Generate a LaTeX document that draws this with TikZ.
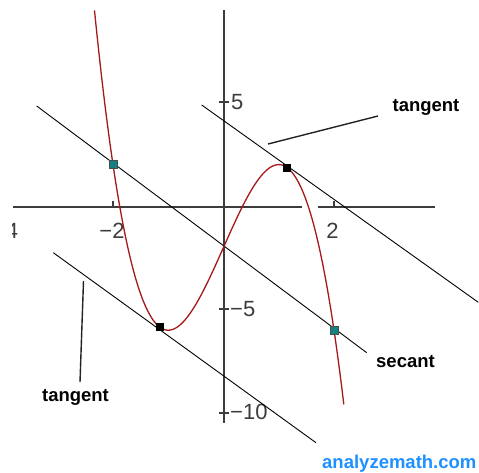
\documentclass[tikz,border=0pt]{standalone}
\usepackage{fontspec}
\setmainfont{Liberation Sans}
\definecolor{axisgray}{RGB}{60,60,60}
\definecolor{curvered}{RGB}{165,25,25}
\definecolor{ptteal}{RGB}{20,130,130}
\definecolor{siteblue}{RGB}{30,144,255}
\begin{document}
\begin{tikzpicture}[x=1pt,y=-1pt,
  axisline/.style={draw=axisgray, line width=1.8pt},
  tickmark/.style={draw=axisgray, line width=1.2pt},
  curveline/.style={draw=curvered, line width=1.3pt},
  fline/.style={draw=black, line width=0.9pt},
  pointer/.style={draw={rgb,255:red,35;green,35;blue,35}, line width=1.4pt},
  ticklabel/.style={font=\fontsize{22}{22}\selectfont, text=axisgray, inner sep=0pt},
  lbl/.style={font=\fontsize{18.5}{18.5}\selectfont\bfseries, inner sep=0pt},
  tealpt/.style={rectangle, minimum size=8pt, inner sep=0pt, fill=ptteal, draw=black!70, line width=0.4pt},
  blackpt/.style={rectangle, minimum size=8pt, inner sep=0pt, fill=black}]
\useasboundingbox (0,0) rectangle (479,472);
% axes
\coordinate (yTop) at (224,10); \coordinate (yBot) at (224,423);
\coordinate (xL) at (13,207); \coordinate (xG1) at (302,207);
\coordinate (xG2) at (318,207); \coordinate (xR) at (435,207);
\draw[axisline] (yTop) -- (yBot);
\draw[axisline] (xL) -- (xG1);
\draw[axisline] (xG2) -- (xR);
% ticks
\foreach \yy/\nm in {102/a,309/b,413/c}{
  \coordinate (ty1\nm) at (219,\yy); \coordinate (ty2\nm) at (229,\yy);
  \draw[tickmark] (ty1\nm) -- (ty2\nm);}
\foreach \xx/\nm in {113/a,334/b}{
  \coordinate (tx1\nm) at (\xx,201); \coordinate (tx2\nm) at (\xx,208);
  \draw[tickmark] (tx1\nm) -- (tx2\nm);}
% tick labels
\node[ticklabel, anchor=west] (l5) at (231,102) {5};
\node[ticklabel, anchor=west] (lm5) at (230,309.5) {−5};
\node[ticklabel, anchor=west] (lm10) at (230,411.5) {−10};
\node[ticklabel] (l2) at (332.5,231) {2};
\node[ticklabel] (lm2) at (112,231) {−2};
\begin{scope}
  \clip (12.5,190) rectangle (40,250);
  \node[ticklabel] (lm4) at (5.5,231) {−4};
\end{scope}
% straight lines
\coordinate (s1) at (36.7,106); \coordinate (s2) at (366.7,352.7);
\coordinate (u1) at (201.7,105); \coordinate (u2) at (478.3,302.3);
\coordinate (d1) at (53.3,252.7); \coordinate (d2) at (316,442.7);
\draw[fline] (s1) -- (s2);
\draw[fline] (u1) -- (u2);
\draw[fline] (d1) -- (d2);
% curve and points
\begin{scope}[shift={(223.5,206)}, x=55.25pt, y=20.7pt]
  \draw[curveline] plot[domain=-2.335:2.18, samples=160, smooth] (\x, {-2*\x*\x*\x+6*\x-2});
  \node[tealpt] (pA) at (-2,2) {};
  \node[tealpt] (pB) at (2,-6) {};
  \node[blackpt] (pT1) at (1.1547,1.849) {};
  \node[blackpt] (pT2) at (-1.1547,-5.849) {};
\end{scope}
% pointers and labels
\coordinate (p1a) at (268,144); \coordinate (p1b) at (378,116);
\coordinate (p2a) at (83.5,281); \coordinate (p2b) at (80,382);
\draw[pointer] (p1a) -- (p1b);
\draw[pointer] (p2a) -- (p2b);
\node[lbl, anchor=base] (tg1) at (426,111.5) {tangent};
\node[lbl, anchor=base] (sec) at (405.5,367) {secant};
\node[lbl, anchor=base] (tg2) at (75.5,401) {tangent};
\node[lbl, anchor=base west, text=siteblue] (site) at (322,468) {analyzemath.com};
\end{tikzpicture}
\end{document}
